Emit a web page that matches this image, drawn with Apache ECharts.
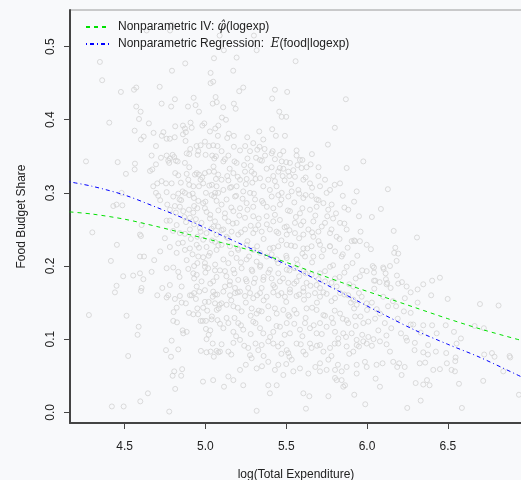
<!DOCTYPE html>
<html>
<head>
<meta charset="utf-8">
<script src="https://cdn.jsdelivr.net/npm/echarts@6/dist/echarts.min.js"></script>
<style>
  html, body { margin: 0; padding: 0; background: #f8f9fb; }
  #chart { width: 521px; height: 480px; }
</style>
</head>
<body>
<div id="chart"></div>
<script>
// log total expenditure vs food budget share (one pair per household)
var obs = [
  [4.347,0.479],[4.361,0.454],[4.477,0.438],[4.558,0.441],[4.572,0.444],[4.717,0.445],[4.793,0.467],[4.875,0.477],
  [5.053,0.484],[5.032,0.464],[5.048,0.452],[5.032,0.450],[4.811,0.428],[4.729,0.422],[4.927,0.430],[4.892,0.418],
  [4.939,0.420],[5.063,0.431],[5.045,0.422],[5.070,0.424],[4.572,0.418],[4.599,0.411],[4.788,0.418],[4.960,0.411],
  [4.589,0.401],[4.405,0.396],[4.650,0.395],[4.562,0.385],[4.679,0.382],[4.740,0.383],[4.730,0.378],[4.813,0.391],
  [4.760,0.374],[4.780,0.374],[4.810,0.376],[4.861,0.392],[4.873,0.388],[4.861,0.380],[4.908,0.396],[4.915,0.389],
  [4.879,0.383],[4.877,0.371],[4.993,0.395],[4.981,0.392],[5.028,0.384],[5.061,0.388],[5.080,0.392],[5.077,0.378],
  [4.601,0.373],[4.618,0.377],[4.694,0.364],[4.945,0.364],[4.970,0.365],[4.997,0.370],[5.022,0.364],[5.048,0.365],
  [5.075,0.364],[4.906,0.360],[4.636,0.522],[4.781,0.522],[4.791,0.530],[5.114,0.495],[5.317,0.495],[5.088,0.515],
  [5.300,0.515],
  [5.193,0.485],[5.172,0.467],[5.558,0.480],[5.234,0.444],[5.209,0.439],[5.430,0.441],[5.506,0.438],[5.413,0.429],
  [5.869,0.428],[5.176,0.422],[5.187,0.415],[5.110,0.417],[5.457,0.411],[5.472,0.404],[5.500,0.404],[5.102,0.403],
  [5.127,0.400],[5.801,0.389],[5.413,0.387],[5.333,0.384],[5.436,0.378],[5.492,0.378],[5.358,0.373],[5.259,0.376],
  [5.145,0.381],[5.176,0.378],[5.135,0.375],[5.296,0.368],[5.246,0.364],[5.176,0.363],[5.335,0.363],[5.366,0.360],
  [5.758,0.366],
  [4.261,0.343],[4.457,0.342],[4.564,0.340],[4.508,0.326],[4.562,0.332],
  [4.667,0.351],[4.725,0.348],[4.760,0.351],[4.780,0.347],[4.797,0.352],[4.807,0.349],[4.817,0.344],[4.884,0.354],
  [4.900,0.353],[4.952,0.352],[4.956,0.357],[5.001,0.352],[5.042,0.351],[5.055,0.347],[5.065,0.350],
  [4.657,0.330],[4.671,0.332],[4.694,0.339],[4.770,0.344],[4.776,0.341],[4.828,0.343],[4.873,0.341],[4.813,0.327],
  [4.832,0.324],[4.884,0.326],[4.935,0.325],[4.946,0.327],[4.960,0.325],[4.997,0.327],[5.022,0.329],[5.053,0.329],
  [5.065,0.319],[5.079,0.325],
  [4.729,0.316],[4.702,0.313],[4.677,0.309],[4.756,0.313],[4.791,0.313],[4.848,0.314],[4.894,0.318],[4.900,0.311],
  [4.925,0.309],[4.986,0.313],[4.960,0.309],[5.024,0.310],[5.069,0.309],
  [4.481,0.300],[4.450,0.284],[4.430,0.282],[4.486,0.283],[4.694,0.300],[4.708,0.296],[4.760,0.301],[4.801,0.295],
  [4.832,0.299],[4.859,0.302],[4.873,0.300],[4.921,0.299],[4.929,0.293],[4.956,0.289],[5.003,0.300],[4.986,0.286],
  [5.038,0.297],[5.069,0.289],[5.054,0.295],[5.079,0.300],
  [4.764,0.284],[4.780,0.277],[4.811,0.282],[4.842,0.281],[4.817,0.273],[4.863,0.275],[4.898,0.277],[4.925,0.273],
  [4.904,0.266],[4.941,0.264],[4.976,0.259],[4.780,0.262],[4.760,0.262],[4.822,0.256],[4.842,0.245],[4.873,0.244],
  [4.904,0.250],[4.966,0.252],[5.007,0.245],[5.038,0.251],[5.059,0.261],[5.079,0.254],[5.069,0.243],[5.028,0.265],
  [5.007,0.274],[4.997,0.279],
  [4.595,0.243],[4.601,0.241],[4.605,0.256],[4.300,0.246],[4.452,0.229],[4.683,0.208],[4.733,0.170],
  [4.749,0.238],[4.780,0.226],[4.832,0.231],[4.873,0.222],[4.904,0.224],[4.946,0.229],[4.986,0.236],[5.007,0.226],
  [5.059,0.233],[5.069,0.222],[5.028,0.218],[4.956,0.213],[4.884,0.208],[4.822,0.218],
  [4.415,0.207],[4.595,0.213],[4.620,0.213],
  [4.491,0.186],[4.553,0.187],[4.595,0.190],[4.616,0.182],[4.667,0.192],[4.450,0.173],[4.605,0.170],[4.760,0.197],
  [4.801,0.198],[4.832,0.192],[4.894,0.196],[4.925,0.190],[4.946,0.188],[4.986,0.212],[4.997,0.204],[4.997,0.199],
  [5.017,0.197],[5.059,0.194],[5.069,0.185],[5.048,0.179],[4.976,0.179],[4.946,0.172],[4.853,0.172],[4.780,0.174],
  [5.100,0.357],[5.142,0.351],[5.214,0.358],[5.239,0.338],[5.276,0.357],[5.313,0.348],[5.321,0.359],[5.369,0.351],
  [5.410,0.354],[5.416,0.357],[5.461,0.352],[5.482,0.357],[5.564,0.351],[5.564,0.358],[5.659,0.353],[5.651,0.339],
  [5.585,0.345],[5.523,0.341],[5.472,0.343],[5.338,0.345],[5.193,0.341],[5.173,0.327],[5.111,0.343],[5.245,0.329],
  [5.286,0.329],[5.302,0.326],[5.379,0.333],[5.410,0.335],[5.451,0.329],[5.482,0.333],[5.513,0.329],[5.544,0.331],
  [5.595,0.334],[5.626,0.335],[5.699,0.323],[5.874,0.334],[5.977,0.343],[5.135,0.323],[5.142,0.317],[5.214,0.318],
  [5.255,0.319],[5.290,0.314],[5.338,0.320],[5.389,0.318],[5.430,0.316],[5.478,0.323],[5.519,0.323],[5.554,0.322],
  [5.606,0.318],[5.647,0.313],[5.709,0.309],[5.771,0.304],[5.833,0.313],[5.936,0.302],[5.884,0.277],[5.808,0.272],
  [5.833,0.259],[5.740,0.259],[5.754,0.268],[5.668,0.261],[5.699,0.247],[5.771,0.245],[5.812,0.240],[5.874,0.250],
  [5.905,0.234],[5.926,0.234],[5.771,0.227],[5.802,0.220],[5.843,0.213],[5.956,0.234],[5.998,0.229],
  [5.111,0.304],[5.152,0.307],[5.193,0.309],[5.131,0.291],[5.183,0.295],[5.234,0.302],[5.276,0.300],[5.307,0.291],
  [5.358,0.309],[5.399,0.304],[5.451,0.297],[5.472,0.300],[5.513,0.295],[5.534,0.302],[5.575,0.304],[5.606,0.293],
  [5.657,0.296],[5.688,0.291],[5.730,0.286],[5.781,0.284],[5.688,0.281],[5.647,0.277],[5.585,0.272],[5.523,0.275],
  [5.461,0.284],[5.420,0.279],[5.358,0.286],[5.296,0.281],[5.255,0.286],[5.214,0.279],[5.173,0.275],[5.121,0.272],
  [5.100,0.284],[5.142,0.261],[5.193,0.259],[5.245,0.266],[5.296,0.268],[5.327,0.256],[5.379,0.268],[5.420,0.261],
  [5.461,0.263],[5.503,0.254],[5.554,0.259],[5.606,0.261],[5.637,0.250],[5.668,0.240],[5.606,0.243],[5.554,0.245],
  [5.503,0.243],[5.451,0.245],[5.399,0.250],[5.348,0.247],[5.296,0.245],[5.245,0.250],[5.203,0.243],[5.162,0.247],
  [5.131,0.240],[5.111,0.250],
  [5.100,0.229],[5.152,0.227],[5.203,0.222],[5.255,0.229],[5.296,0.222],[5.338,0.218],[5.399,0.224],[5.451,0.227],
  [5.503,0.229],[5.554,0.227],[5.606,0.224],[5.657,0.227],[5.709,0.229],[5.730,0.222],[5.668,0.213],[5.616,0.213],
  [5.564,0.209],[5.503,0.211],[5.441,0.209],[5.379,0.213],[5.317,0.206],[5.255,0.209],[5.193,0.211],[5.142,0.204],
  [5.111,0.209],[5.121,0.193],[5.173,0.195],[5.224,0.197],[5.286,0.195],[5.338,0.199],[5.399,0.195],[5.451,0.190],
  [5.503,0.195],[5.554,0.197],[5.606,0.193],[5.657,0.188],[5.709,0.190],[5.771,0.199],[5.802,0.183],[5.740,0.179],
  [5.688,0.174],[5.626,0.177],[5.564,0.179],[5.513,0.177],[5.461,0.179],[5.410,0.183],[5.358,0.181],[5.307,0.183],
  [5.255,0.179],[5.203,0.181],[5.152,0.179],[5.121,0.172],[5.183,0.170],[5.265,0.170],[5.348,0.170],[5.430,0.171],
  [5.523,0.168],[5.606,0.170],[5.709,0.170],[5.812,0.172],[5.915,0.172],[5.956,0.186],[5.998,0.193],[5.874,0.199],
  [6.129,0.305],[6.086,0.278],[6.030,0.267],[6.165,0.248],[6.309,0.239],[6.024,0.223],[6.175,0.225],[6.168,0.218],
  [6.193,0.217],[6.183,0.207],[6.035,0.200],[6.043,0.198],[6.100,0.198],[6.103,0.196],[6.142,0.200],[6.115,0.190],
  [6.043,0.191],[6.185,0.187],[6.117,0.182],[6.051,0.180],[6.043,0.180],[6.078,0.178],[6.125,0.177],[6.121,0.175],
  [6.193,0.176],[6.216,0.178],[6.245,0.172],[6.146,0.170],[6.045,0.169],[6.348,0.175],[6.403,0.180],[6.451,0.184],
  [6.313,0.168],
  [6.699,0.148],[6.814,0.146],[6.499,0.155],[6.397,0.160],[6.313,0.150],[6.270,0.164],[6.234,0.156],[6.228,0.138],
  [6.270,0.136],[6.030,0.150],[6.060,0.141],[6.080,0.135],[6.100,0.158],[6.130,0.145],[6.160,0.152],[6.050,0.128],
  [6.110,0.122],[6.150,0.115],[6.190,0.128],[6.210,0.108],[6.070,0.112],[6.120,0.105],[6.180,0.145],
  [6.719,0.043],[6.789,0.076],[6.725,0.079],[6.773,0.081],[6.666,0.118],[6.723,0.115],[6.882,0.077],[6.886,0.075],
  [6.940,0.024],[6.843,0.056],[6.587,0.006],[6.569,0.039],[6.554,0.094],[6.581,0.101],[6.548,0.075],[6.546,0.070],
  [6.523,0.058],[6.544,0.056],[6.494,0.067],[6.490,0.081],[6.538,0.110],[6.487,0.119],[6.431,0.108],[6.426,0.083],
  [6.403,0.119],[6.451,0.059],[6.410,0.058],[6.377,0.079],[6.348,0.082],[6.378,0.092],[6.360,0.068],[6.326,0.067],
  [6.348,0.038],[6.371,0.044],[6.387,0.037],[6.301,0.040],[6.332,0.016],[6.249,0.006],[6.296,0.095],[6.294,0.085],
  [6.348,0.119],[6.332,0.109],[6.241,0.102],[6.247,0.098],[6.233,0.062],[6.270,0.120],[6.286,0.120],[6.080,0.035],
  [6.053,0.046],[6.096,0.067],[6.059,0.065],[6.040,0.100],[6.080,0.097],[6.121,0.093],[6.142,0.083],[6.162,0.069],
  [6.187,0.062],[6.199,0.067],[6.214,0.051],[6.030,0.091],
  [4.440,0.164],[4.601,0.166],[4.279,0.133],[4.512,0.132],[4.587,0.117],[4.580,0.106],[4.522,0.077],[4.644,0.026],
  [4.421,0.008],[4.494,0.008],[4.597,0.015],[4.776,0.001],
  [4.702,0.160],[4.760,0.157],[4.770,0.160],[4.811,0.155],[4.842,0.159],[4.904,0.160],[4.915,0.160],[4.941,0.155],
  [4.962,0.165],[4.997,0.167],[5.045,0.158],[5.048,0.165],[5.073,0.161],
  [4.822,0.143],[4.803,0.137],[4.853,0.150],[4.879,0.149],[4.898,0.136],[4.925,0.134],[4.955,0.134],[4.986,0.143],
  [5.011,0.139],[4.997,0.151],[5.038,0.127],[5.075,0.126],[5.082,0.142],[5.088,0.147],[5.059,0.149],
  [4.801,0.125],[4.824,0.123],[4.859,0.112],[4.863,0.108],[4.884,0.110],[4.791,0.098],[4.756,0.085],[4.832,0.086],
  [4.787,0.076],[4.970,0.125],[4.983,0.125],[5.003,0.125],[5.003,0.114],[5.030,0.112],[5.007,0.100],[5.045,0.094],
  [4.972,0.084],[5.007,0.082],[5.032,0.083],[5.069,0.084],[5.080,0.082],[5.052,0.076],[4.985,0.042],[5.048,0.044],
  [4.807,0.056],[4.856,0.059],[4.797,0.050],[4.850,0.050],[4.813,0.032],
  [5.111,0.165],[5.152,0.160],[5.183,0.163],[5.214,0.165],[5.245,0.159],[5.276,0.163],[5.296,0.156],[5.338,0.163],
  [5.379,0.158],[5.420,0.164],[5.451,0.160],[5.492,0.158],[5.523,0.164],[5.564,0.159],[5.606,0.165],[5.637,0.160],
  [5.678,0.163],[5.709,0.158],[5.750,0.162],[5.802,0.156],[5.833,0.163],[5.884,0.160],[5.915,0.154],[5.936,0.147],
  [5.967,0.158],[5.998,0.149],
  [5.100,0.149],[5.131,0.147],[5.173,0.145],[5.224,0.138],[5.286,0.142],[5.317,0.135],[5.348,0.138],[5.389,0.145],
  [5.441,0.135],[5.482,0.140],[5.513,0.133],[5.564,0.135],[5.626,0.142],[5.688,0.140],[5.730,0.133],[5.781,0.129],
  [5.833,0.135],[5.874,0.126],[5.926,0.131],[5.977,0.122],[6.008,0.124],
  [5.131,0.129],[5.142,0.122],[5.203,0.122],[5.234,0.113],[5.111,0.115],[5.173,0.110],[5.296,0.124],[5.338,0.115],
  [5.358,0.108],[5.420,0.110],[5.461,0.117],[5.503,0.122],[5.523,0.108],[5.585,0.113],[5.616,0.122],[5.647,0.115],
  [5.688,0.108],[5.709,0.122],[5.750,0.117],[5.802,0.110],[5.822,0.101],[5.853,0.108],[5.905,0.108],[5.936,0.099],
  [5.977,0.097],[6.008,0.103],[5.884,0.122],
  [5.173,0.095],[5.214,0.099],[5.142,0.083],[5.265,0.088],[5.327,0.085],[5.348,0.092],[5.389,0.097],[5.420,0.094],
  [5.472,0.094],[5.503,0.085],[5.513,0.081],[5.564,0.094],[5.606,0.083],[5.647,0.094],[5.657,0.088],[5.709,0.092],
  [5.730,0.083],[5.771,0.088],[5.822,0.094],[5.874,0.090],[5.915,0.083],[5.936,0.092],[5.998,0.094],[5.987,0.069],
  [5.276,0.078],[5.286,0.074],[5.317,0.060],[5.389,0.069],[5.430,0.058],[5.451,0.065],[5.482,0.051],[5.534,0.072],
  [5.544,0.056],[5.585,0.060],[5.637,0.053],[5.709,0.067],[5.761,0.072],[5.709,0.056],[5.750,0.058],[5.802,0.058],
  [5.843,0.056],[5.874,0.062],[5.936,0.065],[5.936,0.053],[5.998,0.062],
  [5.090,0.083],[5.142,0.049],[5.173,0.044],[5.214,0.058],[5.234,0.037],[5.115,0.035],[5.389,0.037],[5.441,0.037],
  [5.399,0.026],[5.606,0.026],[5.643,0.022],[5.761,0.022],[5.802,0.047],[5.812,0.044],[5.843,0.044],[5.853,0.035],
  [5.864,0.037],[5.921,0.024],[5.989,0.011],[5.317,0.002],[5.622,0.005],
  // dense core, second pass
  [5.12,0.346],[5.18,0.343],[5.26,0.347],[5.35,0.344],[5.43,0.346],[5.50,0.342],[5.60,0.345],
  [5.05,0.336],[5.15,0.333],[5.28,0.337],[5.46,0.334],[5.57,0.338],[5.70,0.335],
  [4.98,0.321],[5.10,0.318],[5.20,0.322],[5.31,0.319],[5.42,0.323],[5.49,0.317],[5.62,0.321],[5.74,0.318],
  [5.04,0.311],[5.16,0.308],[5.25,0.312],[5.44,0.309],[5.53,0.312],[5.66,0.307],[5.80,0.311],
  [4.90,0.297],[5.06,0.300],[5.19,0.296],[5.30,0.299],[5.41,0.295],[5.58,0.299],[5.62,0.297],[5.75,0.300],[5.85,0.296],
  [4.84,0.291],[5.00,0.288],[5.23,0.292],[5.35,0.289],[5.47,0.291],[5.55,0.287],[5.70,0.290],[5.92,0.288],
  [4.95,0.279],[5.08,0.276],[5.16,0.280],[5.26,0.277],[5.38,0.281],[5.51,0.276],[5.60,0.279],[5.76,0.277],[5.86,0.280],
  [4.87,0.267],[5.03,0.270],[5.12,0.266],[5.21,0.269],[5.33,0.265],[5.43,0.270],[5.56,0.267],[5.68,0.269],[5.79,0.265],[5.95,0.268],
  [4.93,0.257],[5.05,0.254],[5.17,0.258],[5.28,0.255],[5.38,0.257],[5.49,0.253],[5.59,0.256],[5.72,0.254],[5.86,0.258],
  [4.97,0.247],[5.10,0.249],[5.22,0.246],[5.31,0.250],[5.44,0.247],[5.52,0.249],[5.66,0.246],[5.78,0.250],[5.96,0.247],
  [4.91,0.237],[5.04,0.235],[5.14,0.238],[5.26,0.234],[5.36,0.237],[5.47,0.235],[5.58,0.238],[5.70,0.234],[5.83,0.237],[5.92,0.235],
  [4.96,0.225],[5.08,0.228],[5.20,0.224],[5.32,0.227],[5.42,0.225],[5.53,0.228],[5.63,0.224],[5.77,0.227],[5.88,0.225],
  [4.92,0.216],[5.02,0.214],[5.16,0.217],[5.27,0.213],[5.41,0.216],[5.50,0.214],[5.60,0.217],[5.72,0.213],[5.85,0.216],[5.94,0.214],
  [4.95,0.204],[5.06,0.202],[5.22,0.205],[5.34,0.201],[5.45,0.204],[5.57,0.202],[5.66,0.205],[5.79,0.201],[5.91,0.204],
  [5.00,0.191],[5.09,0.194],[5.18,0.190],[5.29,0.193],[5.39,0.191],[5.52,0.194],[5.62,0.190],[5.74,0.193],[5.86,0.191],[5.97,0.194],
  [4.93,0.183],[5.13,0.186],[5.25,0.182],[5.36,0.185],[5.48,0.183],[5.58,0.186],[5.70,0.182],[5.83,0.185],[5.93,0.183],
  [5.03,0.176],[5.15,0.174],[5.30,0.177],[5.42,0.174],[5.55,0.176],[5.65,0.173],[5.78,0.177],[5.89,0.175],
  [4.93,0.163],[5.06,0.161],[5.20,0.164],[5.32,0.160],[5.47,0.163],[5.58,0.161],[5.73,0.164],[5.86,0.161],[5.95,0.163],
  [5.02,0.151],[5.16,0.153],[5.25,0.150],[5.36,0.153],[5.50,0.151],[5.61,0.154],[5.69,0.150],[5.78,0.152],[5.90,0.150],
  [4.95,0.142],[5.07,0.140],[5.20,0.143],[5.33,0.139],[5.43,0.142],[5.55,0.140],[5.66,0.143],[5.80,0.139],[5.92,0.142],[6.00,0.140],
  [5.04,0.131],[5.18,0.129],[5.28,0.132],[5.39,0.128],[5.52,0.131],[5.62,0.129],[5.74,0.132],[5.85,0.128],[5.96,0.131],
  [5.09,0.121],[5.22,0.119],[5.31,0.122],[5.44,0.118],[5.55,0.121],[5.67,0.119],[5.79,0.122],[5.93,0.118],
  [5.02,0.106],[5.19,0.104],[5.28,0.107],[5.40,0.103],[5.49,0.106],[5.60,0.104],[5.72,0.107],[5.87,0.103],[5.97,0.106],
  [5.10,0.093],[5.24,0.091],[5.31,0.094],[5.45,0.090],[5.59,0.093],[5.69,0.091],[5.80,0.094],[5.95,0.090],
  [5.16,0.079],[5.36,0.077],[5.47,0.080],[5.52,0.076],[5.62,0.079],[5.78,0.077],[5.89,0.080],
  [5.25,0.065],[5.35,0.063],[5.50,0.066],[5.68,0.062],[5.82,0.065],
  [4.90,0.335],[4.97,0.318],[4.85,0.290],[4.93,0.282],[4.72,0.290],[4.88,0.260],[4.95,0.240],[4.80,0.248],
  [4.86,0.232],[4.93,0.200],[4.84,0.185],[4.72,0.220]
];

// fitted curves
var ivCurve = [
  [4.16,0.274],[4.3,0.271],[4.5,0.264],[4.7,0.254],[4.9,0.243],[5.1,0.232],[5.3,0.220],[5.5,0.205],
  [5.7,0.189],[5.9,0.173],[6.1,0.158],[6.3,0.143],[6.5,0.128],[6.7,0.114],[6.96,0.098]
];
var regCurve = [
  [4.16,0.315],[4.3,0.309],[4.5,0.297],[4.7,0.280],[4.9,0.262],[5.1,0.242],[5.3,0.222],[5.5,0.202],
  [5.7,0.180],[5.9,0.157],[6.1,0.134],[6.3,0.112],[6.5,0.093],[6.7,0.075],[6.96,0.048]
];

var xTicks = [4.5, 5.0, 5.5, 6.0, 6.5];
var yTicks = [0.0, 0.1, 0.2, 0.3, 0.4, 0.5];

var legendText = {
  iv: '{t|Nonparametric IV: }{m|φ̂}{t|(logexp)}',
  reg: '{t|Nonparametric Regression:  }{m|E}{t|(food|logexp)}'
};

var myChart = echarts.init(document.getElementById('chart'));
var font = 'Liberation Sans';

var option = {
  animation: false,
  backgroundColor: '#f8f9fb',
  textStyle: { fontFamily: font },
  grid: {
    left: 70,
    top: 10,
    right: -1,
    bottom: 57,
    containLabel: false,
    outerBoundsMode: 'none',
    show: true,
    borderColor: '#9a9a9a',
    borderWidth: 1
  },
  legend: {
    orient: 'vertical',
    left: 80,
    top: 16,
    itemWidth: 24,
    itemHeight: 12,
    itemGap: 5,
    data: ['iv', 'reg'],
    itemStyle: { opacity: 0 },
    formatter: function(name) {
      return legendText[name];
    },
    textStyle: {
      rich: {
        t: { fontFamily: font, fontSize: 12, color: '#222' },
        m: { fontFamily: 'DejaVu Serif', fontStyle: 'italic', fontSize: 12, color: '#222' }
      },
      padding: [0, 0, 0, 3]
    }
  },
  xAxis: {
    type: 'value',
    min: 4.162,
    max: 6.959,
    name: 'log(Total Expenditure)',
    nameLocation: 'middle',
    nameGap: 46,
    nameTextStyle: { fontFamily: font, fontSize: 12, color: '#222' },
    axisLine: { show: true, onZero: false, lineStyle: { color: '#444', width: 2 } },
    axisTick: { show: true, length: 6, customValues: xTicks, lineStyle: { color: '#444' } },
    axisLabel: {
      customValues: xTicks,
      margin: 18,
      fontSize: 12,
      color: '#222',
      formatter: function(v) { return v.toFixed(1); }
    },
    splitLine: { show: false }
  },
  yAxis: {
    type: 'value',
    min: -0.0146,
    max: 0.550,
    name: 'Food Budget Share',
    nameLocation: 'middle',
    nameGap: 42,
    nameTextStyle: { fontFamily: font, fontSize: 12, color: '#222' },
    axisLine: { show: true, onZero: false, lineStyle: { color: '#444', width: 2 } },
    axisTick: { show: true, length: 6, customValues: yTicks, lineStyle: { color: '#444' } },
    axisLabel: {
      customValues: yTicks,
      rotate: 90,
      margin: 13,
      fontSize: 12,
      color: '#222',
      formatter: function(v) { return v.toFixed(1); }
    },
    splitLine: { show: false }
  },
  series: [
    {
      name: 'obs',
      type: 'scatter',
      data: obs,
      symbol: 'circle',
      symbolSize: 5,
      itemStyle: { color: 'rgba(0,0,0,0)', borderColor: '#d2d2d2', borderWidth: 1 },
      z: 1
    },
    {
      name: 'iv',
      type: 'line',
      data: ivCurve,
      smooth: 0.3,
      symbol: 'none',
      lineStyle: { color: '#00e000', width: 1, type: [4, 4] },
      itemStyle: { color: '#00e000' },
      z: 3
    },
    {
      name: 'reg',
      type: 'line',
      data: regCurve,
      smooth: 0.3,
      symbol: 'none',
      lineStyle: { color: '#0000ff', width: 1, type: [1, 3, 4, 3] },
      itemStyle: { color: '#0000ff' },
      z: 3
    }
  ]
};

myChart.setOption(option);
</script>
</body>
</html>
